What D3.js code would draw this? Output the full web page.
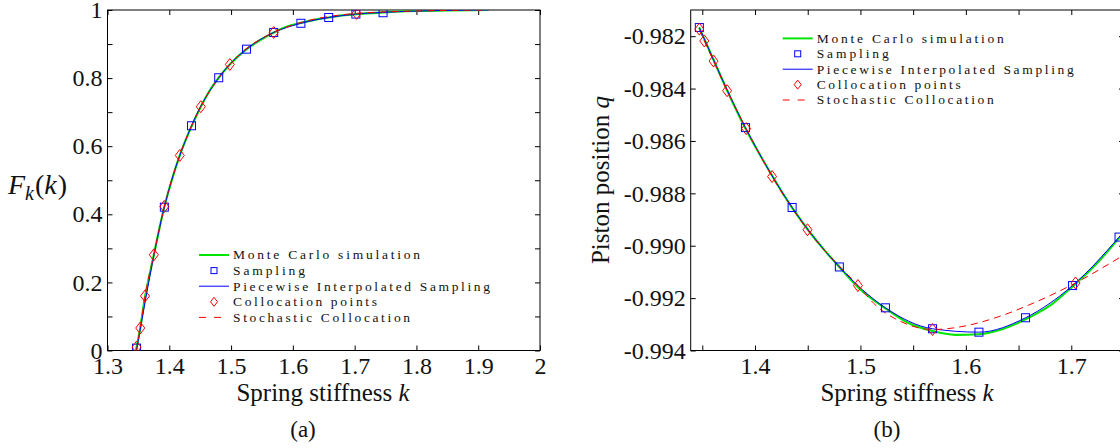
<!DOCTYPE html>
<html>
<head>
<meta charset="utf-8">
<script src="https://cdn.jsdelivr.net/npm/d3@7"></script>
<style>
body { margin: 0; background: #fff; }
svg { display: block; }
text { font-family: "Liberation Serif", serif; fill: #111; }
</style>
</head>
<body>
<div id="chart"></div>
<script>
// ---- panel (a): CDF of spring stiffness
const cdfMcK  = [1.346, 1.353, 1.361, 1.368, 1.375, 1.383, 1.392, 1.404, 1.417, 1.434, 1.451, 1.466, 1.48, 1.498, 1.525, 1.55, 1.569, 1.59, 1.613, 1.635, 1.658, 1.68, 1.702, 1.746, 1.80, 1.86, 1.917];
const cdfMcF  = [0.0, 0.066, 0.16, 0.222, 0.281, 0.35, 0.422, 0.50, 0.573, 0.65, 0.716, 0.765, 0.801, 0.84, 0.885, 0.915, 0.934, 0.951, 0.962, 0.971, 0.978, 0.984, 0.988, 0.993, 0.997, 0.999, 1.0];
const cdfSampK = [1.347, 1.392, 1.436, 1.480, 1.525, 1.569, 1.613, 1.658, 1.702, 1.746];
const cdfSampF = [0.007, 0.421, 0.660, 0.801, 0.885, 0.934, 0.961, 0.978, 0.988, 0.992];
const cdfPwK  = [1.347, 1.392, 1.436, 1.480, 1.525, 1.569, 1.613, 1.658, 1.702, 1.746, 1.80, 1.86, 1.917];
const cdfPwF  = [0.0, 0.421, 0.660, 0.801, 0.885, 0.934, 0.961, 0.978, 0.988, 0.993, 0.997, 0.999, 1.0];
const cdfColK = [1.347, 1.353, 1.3607, 1.375, 1.392, 1.417, 1.451, 1.498, 1.569, 1.703];
const cdfColF = [0.010, 0.066, 0.160, 0.281, 0.423, 0.573, 0.716, 0.840, 0.934, 0.990];
const cdfScK  = [1.347, 1.353, 1.3607, 1.375, 1.392, 1.417, 1.451, 1.498, 1.569, 1.703, 1.80, 1.86, 1.917];
const cdfScF  = [0.0, 0.066, 0.160, 0.281, 0.423, 0.573, 0.716, 0.840, 0.934, 0.990, 0.997, 0.999, 1.0];

// ---- panel (b): piston position
const posMcK  = [1.347, 1.36, 1.375, 1.39, 1.41, 1.435, 1.45, 1.465, 1.48, 1.5, 1.524, 1.545, 1.568, 1.59, 1.612, 1.635, 1.657, 1.68, 1.701, 1.72, 1.75];
const posMcQ  = [-0.98167, -0.98284, -0.9842, -0.98545, -0.98690, -0.98854, -0.98938, -0.99013, -0.99081, -0.99167, -0.99240, -0.99294, -0.99325, -0.99340, -0.99338, -0.99318, -0.99280, -0.99228, -0.99156, -0.99085, -0.98948];
const posSampK = [1.3472, 1.3909, 1.4352, 1.4800, 1.5237, 1.5684, 1.6124, 1.6566, 1.7012, 1.7453];
const posSampQ = [-0.98167, -0.98549, -0.98854, -0.99081, -0.99237, -0.99317, -0.99330, -0.99275, -0.99152, -0.98967];
const posPwK  = [1.3472, 1.3909, 1.4352, 1.4800, 1.5237, 1.5684, 1.6124, 1.6566, 1.7012, 1.7453, 1.75];
const posPwQ  = [-0.98167, -0.98549, -0.98854, -0.99081, -0.99237, -0.99317, -0.99330, -0.99275, -0.99152, -0.98967, -0.98945];
const posColK = [1.3472, 1.3519, 1.3607, 1.3735, 1.3916, 1.4162, 1.4498, 1.4976, 1.5684, 1.704];
const posColQ = [-0.98173, -0.98218, -0.98295, -0.98408, -0.98553, -0.98736, -0.98939, -0.99152, -0.99320, -0.99142];
const posScK  = [1.3472, 1.3519, 1.3607, 1.3735, 1.3916, 1.4162, 1.4498, 1.4976, 1.5155, 1.5376, 1.5684, 1.6009, 1.6325, 1.664, 1.704, 1.75];
const posScQ  = [-0.98173, -0.98218, -0.98295, -0.98408, -0.98553, -0.98736, -0.98939, -0.99152, -0.99231, -0.99288, -0.99320, -0.99305, -0.99269, -0.99219, -0.99142, -0.99035];

// ---- ticks and legend
const cdfXTicks = [1.3, 1.4, 1.5, 1.6, 1.7, 1.8, 1.9, 2.0];
const cdfYTicks = [0, 0.1, 0.2, 0.3, 0.4, 0.5, 0.6, 0.7, 0.8, 0.9, 1.0];
const cdfYLabels = ["0", "", "0.2", "", "0.4", "", "0.6", "", "0.8", "", "1"];
const posXTicks = [1.35, 1.4, 1.45, 1.5, 1.55, 1.6, 1.65, 1.7, 1.75];
const posXLabels = ["", "1.4", "", "1.5", "", "1.6", "", "1.7", ""];
const posYTicks = [-0.994, -0.992, -0.990, -0.988, -0.986, -0.984, -0.982];
const posYLabels = ["-0.994", "-0.992", "-0.990", "-0.988", "-0.986", "-0.984", "-0.982"];
const legendNames = ["Monte Carlo simulation", "Sampling", "Piecewise Interpolated Sampling", "Collocation points", "Stochastic Collocation"];
const legendWidths = [187, 72, 257, 144, 177];

const GREEN = "#00e600", BLUE = "#0000ff", RED = "#ff0000";
const SERIF = '"Liberation Serif", serif';

const svg = d3.select("#chart").append("svg")
    .attr("width", 1120)
    .attr("height", 448);

function zip(a, b) { return a.map((v, i) => [v, b[i]]); }

function drawPanel(p) {
    const g = svg.append("g");
    const x = d3.scaleLinear().domain(p.xDomain).range(p.xRange);
    const y = d3.scaleLinear().domain(p.yDomain).range(p.yRange);
    const [x0, x1] = p.xRange;
    const [y0, y1] = p.yRange;

    const styleText = sel => sel.selectAll("text")
        .style("font-family", SERIF)
        .style("font-size", "24px")
        .style("fill", "#111");

    // bottom / left axes with labels, ticks pointing inward
    g.append("g")
        .attr("transform", `translate(0,${y0})`)
        .call(d3.axisBottom(x).tickValues(p.xTicks).tickSizeInner(-5).tickSizeOuter(0).tickPadding(6)
            .tickFormat((d, i) => p.xLabels[i]))
        .call(a => a.select(".domain").remove())
        .call(styleText);
    g.append("g")
        .attr("transform", `translate(${x0},0)`)
        .call(d3.axisLeft(y).tickValues(p.yTicks).tickSizeInner(-5).tickSizeOuter(0).tickPadding(5)
            .tickFormat((d, i) => p.yLabels[i]))
        .call(a => a.select(".domain").remove())
        .call(styleText);
    // top / right mirror ticks
    g.append("g")
        .attr("transform", `translate(0,${y1})`)
        .call(d3.axisTop(x).tickValues(p.xTicks).tickSizeInner(-5).tickSizeOuter(0).tickFormat(""))
        .call(a => a.select(".domain").remove());
    g.append("g")
        .attr("transform", `translate(${x1},0)`)
        .call(d3.axisRight(y).tickValues(p.yTicks).tickSizeInner(-5).tickSizeOuter(0).tickFormat(""))
        .call(a => a.select(".domain").remove());

    g.append("rect")
        .attr("x", x0).attr("y", y1)
        .attr("width", x1 - x0).attr("height", y0 - y1)
        .attr("fill", "none").attr("stroke", "#000").attr("stroke-width", 1);

    const clipId = "clip" + p.name;
    g.append("clipPath").attr("id", clipId)
        .append("rect").attr("x", x0).attr("y", y1).attr("width", x1 - x0).attr("height", y0 - y1);
    const plot = g.append("g").attr("clip-path", `url(#${clipId})`);

    const line = d3.line()
        .x(d => x(d[0]))
        .y(d => y(d[1]))
        .curve(d3.curveMonotoneX);

    plot.append("path").datum(p.mc)
        .attr("fill", "none").attr("stroke", GREEN).attr("stroke-width", 2.2).attr("d", line);
    plot.append("path").datum(p.pw)
        .attr("fill", "none").attr("stroke", BLUE).attr("stroke-width", 1).attr("d", line);
    plot.append("path").datum(p.sc)
        .attr("fill", "none").attr("stroke", RED).attr("stroke-width", 1)
        .attr("stroke-dasharray", "7 5").attr("d", line);

    plot.selectAll(".sq").data(p.samp).enter().append("rect")
        .attr("x", d => x(d[0]) - 4)
        .attr("y", d => y(d[1]) - 4)
        .attr("width", 8).attr("height", 8)
        .attr("fill", "none").attr("stroke", BLUE).attr("stroke-width", 1);
    plot.selectAll(".dm").data(p.col).enter().append("path")
        .attr("transform", d => `translate(${x(d[0])},${y(d[1])})`)
        .attr("d", "M0,-6L4.5,0L0,6L-4.5,0Z")
        .attr("fill", "none").attr("stroke", RED).attr("stroke-width", 1);

    // legend
    const lg = g.append("g");
    p.legendY.forEach((ly, i) => {
        const lx = p.legendX;
        if (i === 0) {
            lg.append("line").attr("x1", lx).attr("x2", lx + 30).attr("y1", ly).attr("y2", ly)
                .attr("stroke", GREEN).attr("stroke-width", 2);
        } else if (i === 1) {
            lg.append("rect").attr("x", lx + 12).attr("y", ly - 3).attr("width", 6).attr("height", 6)
                .attr("fill", "none").attr("stroke", BLUE);
        } else if (i === 2) {
            lg.append("line").attr("x1", lx).attr("x2", lx + 30).attr("y1", ly).attr("y2", ly)
                .attr("stroke", BLUE).attr("stroke-width", 1);
        } else if (i === 3) {
            lg.append("path").attr("transform", `translate(${lx + 15},${ly})`)
                .attr("d", "M0,-4.5L3.5,0L0,4.5L-3.5,0Z")
                .attr("fill", "none").attr("stroke", RED);
        } else {
            lg.append("line").attr("x1", lx).attr("x2", lx + 30).attr("y1", ly).attr("y2", ly)
                .attr("stroke", RED).attr("stroke-dasharray", "7 8");
        }
        lg.append("text")
            .attr("x", lx + 34).attr("y", ly).attr("dy", "0.33em")
            .attr("font-size", 13.5)
            .attr("textLength", legendWidths[i])
            .attr("lengthAdjust", "spacing")
            .text(legendNames[i]);
    });

    return g;
}

const ga = drawPanel({
    name: "a",
    xDomain: [1.3, 2.0], xRange: [107.5, 540],
    yDomain: [0, 1], yRange: [350.5, 10],
    xTicks: cdfXTicks, xLabels: cdfXTicks.map(d => String(+d.toFixed(1))),
    yTicks: cdfYTicks, yLabels: cdfYLabels,
    mc: zip(cdfMcK, cdfMcF), pw: zip(cdfPwK, cdfPwF), sc: zip(cdfScK, cdfScF),
    samp: zip(cdfSampK, cdfSampF), col: zip(cdfColK, cdfColF),
    legendX: 199, legendY: [255, 270.6, 286.2, 301.8, 317.4]
});

const gb = drawPanel({
    name: "b",
    xDomain: [1.339, 1.75], xRange: [690.7, 1124],
    yDomain: [-0.994, -0.981], yRange: [350.5, 10],
    xTicks: posXTicks, xLabels: posXLabels,
    yTicks: posYTicks, yLabels: posYLabels,
    mc: zip(posMcK, posMcQ), pw: zip(posPwK, posPwQ), sc: zip(posScK, posScQ),
    samp: zip(posSampK, posSampQ), col: zip(posColK, posColQ),
    legendX: 782.7, legendY: [38.4, 53.8, 69.2, 84.6, 100]
});

// axis titles and captions
function xTitle(g, cx) {
    const t = g.append("text").attr("x", cx).attr("y", 401).attr("text-anchor", "middle")
        .attr("font-size", 25);
    t.append("tspan").text("Spring stiffness ");
    t.append("tspan").attr("font-style", "italic").text("k");
}
xTitle(ga, 323);
xTitle(gb, 907);

ga.append("text").attr("x", 303).attr("y", 437).attr("text-anchor", "middle")
    .attr("font-size", 23).text("(a)");
gb.append("text").attr("x", 887).attr("y", 437).attr("text-anchor", "middle")
    .attr("font-size", 23).text("(b)");

const fk = ga.append("text").attr("x", 8).attr("y", 194).attr("font-size", 28);
fk.append("tspan").attr("font-style", "italic").text("F");
fk.append("tspan").attr("font-style", "italic").attr("font-size", 20).attr("dy", 6).text("k");
fk.append("tspan").attr("dy", -6).attr("dx", 1).text("(");
fk.append("tspan").attr("font-style", "italic").text("k");
fk.append("tspan").attr("dx", 1).text(")");

const pq = gb.append("text")
    .attr("transform", "translate(609,180) rotate(-90)")
    .attr("text-anchor", "middle").attr("font-size", 25);
pq.append("tspan").text("Piston position ");
pq.append("tspan").attr("font-style", "italic").text("q");
</script>
</body>
</html>
